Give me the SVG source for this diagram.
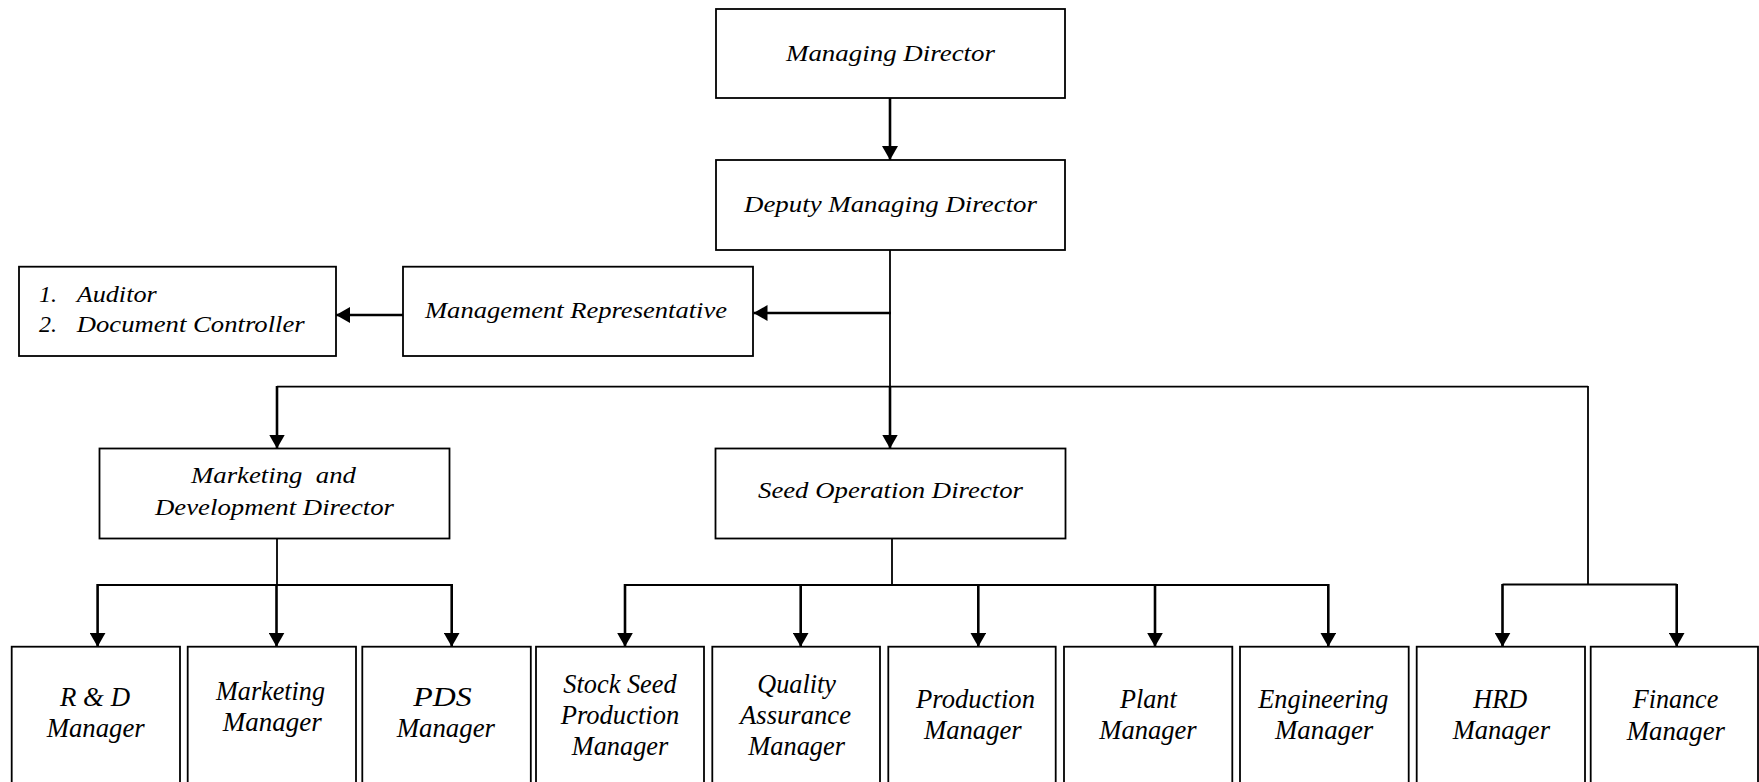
<svg xmlns="http://www.w3.org/2000/svg" width="1759" height="782" viewBox="0 0 1759 782">
  <style>
    .box { fill: #fff; stroke: #000; stroke-width: 1.8; }
    .lbl { font-family: "Liberation Serif", "Times New Roman", serif; font-style: italic; font-size: 24px; fill: #000; }
    .lbl2 { font-family: "Liberation Serif", "Times New Roman", serif; font-style: italic; font-size: 26.5px; fill: #000; }
    .line { fill: none; stroke: #000; stroke-width: 1.8; }
    .arrow { fill: none; stroke: #000; stroke-width: 2.6; marker-end: url(#head); }
  </style>
  <defs>
    <marker id="head" markerUnits="userSpaceOnUse" markerWidth="15" markerHeight="16" refX="14" refY="8" orient="auto" viewBox="0 0 15 16">
      <path d="M0,0 L14,8 L0,16 z" fill="#000"/>
    </marker>
  </defs>

  <rect width="1759" height="782" fill="#fff"/>

  <!-- connectors -->
  <g id="connectors">
    <!-- MD to DMD -->
    <line class="arrow" x1="890" y1="98" x2="890" y2="160"/>
    <!-- trunk below DMD -->
    <line class="line" x1="890" y1="250" x2="890" y2="387"/>
    <line class="arrow" x1="890" y1="386" x2="890" y2="448.5"/>
    <!-- to Management Representative -->
    <line class="arrow" x1="891" y1="313" x2="753.5" y2="313"/>
    <!-- MR to auditor list -->
    <line class="arrow" x1="403" y1="315" x2="336" y2="315"/>
    <!-- main horizontal bar -->
    <line class="line" x1="277" y1="386.7" x2="1588" y2="386.7"/>
    <line class="arrow" x1="277" y1="386" x2="277" y2="448.5"/>
    <line class="line" x1="1588" y1="386" x2="1588" y2="585"/>
    <!-- Marketing and Development branch -->
    <line class="line" x1="277" y1="538.5" x2="277" y2="585"/>
    <line class="line" x1="97.6" y1="585" x2="452" y2="585"/>
    <line class="arrow" x1="97.6" y1="584" x2="97.6" y2="646.7"/>
    <line class="arrow" x1="276.5" y1="584" x2="276.5" y2="646.7"/>
    <line class="arrow" x1="451.7" y1="584" x2="451.7" y2="646.7"/>
    <!-- Seed Operation branch -->
    <line class="line" x1="892" y1="538.5" x2="892" y2="585"/>
    <line class="line" x1="625" y1="585" x2="1328.3" y2="585"/>
    <line class="arrow" x1="625" y1="584" x2="625" y2="646.7"/>
    <line class="arrow" x1="800.7" y1="584" x2="800.7" y2="646.7"/>
    <line class="arrow" x1="978.3" y1="584" x2="978.3" y2="646.7"/>
    <line class="arrow" x1="1155" y1="584" x2="1155" y2="646.7"/>
    <line class="arrow" x1="1328.3" y1="584" x2="1328.3" y2="646.7"/>
    <!-- HRD / Finance branch -->
    <line class="line" x1="1502.5" y1="584.5" x2="1676.7" y2="584.5"/>
    <line class="arrow" x1="1502.5" y1="584" x2="1502.5" y2="646.7"/>
    <line class="arrow" x1="1676.7" y1="584" x2="1676.7" y2="646.7"/>
  </g>

  <g id="managing-director">
    <rect class="box" x="716" y="9" width="349" height="89"/>
    <text class="lbl" x="786" y="60.7" textLength="209" lengthAdjust="spacingAndGlyphs">Managing Director</text>
  </g>

  <g id="deputy-managing-director">
    <rect class="box" x="716" y="160" width="349" height="90"/>
    <text class="lbl" x="744" y="211.7" textLength="293" lengthAdjust="spacingAndGlyphs">Deputy Managing Director</text>
  </g>

  <g id="management-representative">
    <rect class="box" x="403" y="266.7" width="350" height="89.3"/>
    <text class="lbl" x="425" y="318.3" textLength="302" lengthAdjust="spacingAndGlyphs">Management Representative</text>
  </g>

  <g id="auditor-document-controller">
    <rect class="box" x="19" y="266.7" width="317" height="89.3"/>
    <text class="lbl" x="39" y="301.7">1.</text>
    <text class="lbl" x="76.7" y="301.7" textLength="80" lengthAdjust="spacingAndGlyphs">Auditor</text>
    <text class="lbl" x="39" y="332.3">2.</text>
    <text class="lbl" x="76.7" y="332.3" textLength="228" lengthAdjust="spacingAndGlyphs">Document Controller</text>
  </g>

  <g id="marketing-development-director">
    <rect class="box" x="99.5" y="448.5" width="350" height="90"/>
    <text class="lbl" x="191" y="483.3" textLength="165" lengthAdjust="spacingAndGlyphs" xml:space="preserve">Marketing  and</text>
    <text class="lbl" x="155" y="515" textLength="239" lengthAdjust="spacingAndGlyphs">Development Director</text>
  </g>

  <g id="seed-operation-director">
    <rect class="box" x="715.5" y="448.5" width="350" height="90"/>
    <text class="lbl" x="758" y="498.3" textLength="265" lengthAdjust="spacingAndGlyphs">Seed Operation Director</text>
  </g>

  <g id="rd-manager">
    <rect class="box" x="11.7" y="646.7" width="168.3" height="150"/>
    <text class="lbl2" x="60" y="706" textLength="70" lengthAdjust="spacingAndGlyphs">R &amp; D</text>
    <text class="lbl2" x="46.7" y="736.7" textLength="98" lengthAdjust="spacingAndGlyphs">Manager</text>
  </g>

  <g id="marketing-manager">
    <rect class="box" x="187.7" y="646.7" width="168.3" height="150"/>
    <text class="lbl2" x="216" y="700" textLength="109" lengthAdjust="spacingAndGlyphs">Marketing</text>
    <text class="lbl2" x="222.7" y="730.7" textLength="99" lengthAdjust="spacingAndGlyphs">Manager</text>
  </g>

  <g id="pds-manager">
    <rect class="box" x="362.3" y="646.7" width="168.5" height="150"/>
    <text class="lbl2" x="413.3" y="706" textLength="58.4" lengthAdjust="spacingAndGlyphs">PDS</text>
    <text class="lbl2" x="396.7" y="736.7" textLength="98.3" lengthAdjust="spacingAndGlyphs">Manager</text>
  </g>

  <g id="stock-seed-production-manager">
    <rect class="box" x="536" y="646.7" width="168" height="150"/>
    <text class="lbl2" x="563.3" y="693.3" textLength="113.4" lengthAdjust="spacingAndGlyphs">Stock Seed</text>
    <text class="lbl2" x="560.7" y="724" textLength="118.6" lengthAdjust="spacingAndGlyphs">Production</text>
    <text class="lbl2" x="571.7" y="755" textLength="96.6" lengthAdjust="spacingAndGlyphs">Manager</text>
  </g>

  <g id="quality-assurance-manager">
    <rect class="box" x="712.3" y="646.7" width="167.7" height="150"/>
    <text class="lbl2" x="757.3" y="693.3" textLength="78.7" lengthAdjust="spacingAndGlyphs">Quality</text>
    <text class="lbl2" x="740" y="724" textLength="111" lengthAdjust="spacingAndGlyphs">Assurance</text>
    <text class="lbl2" x="748.3" y="755" textLength="96.7" lengthAdjust="spacingAndGlyphs">Manager</text>
  </g>

  <g id="production-manager">
    <rect class="box" x="888.3" y="646.7" width="167.4" height="150"/>
    <text class="lbl2" x="916" y="708.3" textLength="119" lengthAdjust="spacingAndGlyphs">Production</text>
    <text class="lbl2" x="924" y="739.3" textLength="97.7" lengthAdjust="spacingAndGlyphs">Manager</text>
  </g>

  <g id="plant-manager">
    <rect class="box" x="1064" y="646.7" width="168.3" height="150"/>
    <text class="lbl2" x="1120" y="708.3" textLength="56.7" lengthAdjust="spacingAndGlyphs">Plant</text>
    <text class="lbl2" x="1099.3" y="739.3" textLength="97.4" lengthAdjust="spacingAndGlyphs">Manager</text>
  </g>

  <g id="engineering-manager">
    <rect class="box" x="1240" y="646.7" width="168.7" height="150"/>
    <text class="lbl2" x="1258.3" y="708.3" textLength="130" lengthAdjust="spacingAndGlyphs">Engineering</text>
    <text class="lbl2" x="1275" y="739.3" textLength="98.3" lengthAdjust="spacingAndGlyphs">Manager</text>
  </g>

  <g id="hrd-manager">
    <rect class="box" x="1416.7" y="646.7" width="168.3" height="150"/>
    <text class="lbl2" x="1473.3" y="708.3" textLength="54" lengthAdjust="spacingAndGlyphs">HRD</text>
    <text class="lbl2" x="1452.7" y="739.3" textLength="97.3" lengthAdjust="spacingAndGlyphs">Manager</text>
  </g>

  <g id="finance-manager">
    <rect class="box" x="1590.7" y="646.7" width="167.3" height="150"/>
    <text class="lbl2" x="1632.7" y="708.3" textLength="85.6" lengthAdjust="spacingAndGlyphs">Finance</text>
    <text class="lbl2" x="1626.7" y="740" textLength="98.3" lengthAdjust="spacingAndGlyphs">Manager</text>
  </g>
</svg>
